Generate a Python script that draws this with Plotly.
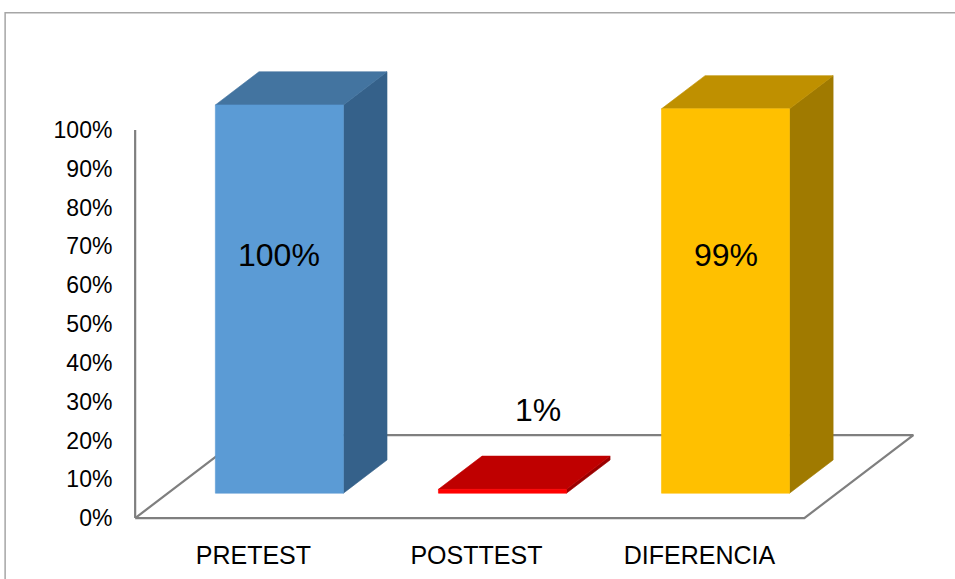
import plotly.graph_objects as go

# ---- data ----
categories = ["PRETEST", "POSTTEST", "DIFERENCIA"]
values = [100, 1, 99]
value_labels = ["100%", "1%", "99%"]
y_ticks = list(range(0, 101, 10))
y_tick_labels = [f"{t}%" for t in y_ticks]

front_colors = ["#5B9BD5", "#FF0000", "#FFC000"]
top_colors = ["#4374A0", "#BF0000", "#BF9000"]
side_colors = ["#35618A", "#9A0000", "#A07A00"]

# ---- geometry (oblique 3D projection in axis units) ----
W, H = 955, 579
PX_PER_CAT = 223.0      # pixels per category unit
PX_PER_PCT = 3.88       # pixels per percent
X0_PX, Y0_PX = 135.0, 518.0  # pixel position of (x=-0.5, y=0)
DX = 109.0 / PX_PER_CAT      # floor depth in x units
DY = 83.0 / PX_PER_PCT       # floor depth in y units (%)
Z0, Z1 = 0.3, 0.7            # bar depth position within floor
BW = 128.0 / PX_PER_CAT      # bar width

xr = [-0.55, 3.05]
yr = [-1.0, 118.0]
pw = (xr[1] - xr[0]) * PX_PER_CAT
ph = (yr[1] - yr[0]) * PX_PER_PCT
ml = X0_PX - (-0.5 - xr[0]) * PX_PER_CAT
mr = W - ml - pw
mb = H - (Y0_PX + (0 - yr[0]) * PX_PER_PCT)
mt = H - mb - ph

FONT = "Liberation Sans, Arial, sans-serif"

fig = go.Figure()

n = len(categories)
# floor
fx = [-0.5, n - 0.5, n - 0.5 + DX, -0.5 + DX, -0.5]
fy = [0, 0, DY, DY, 0]
fig.add_trace(go.Scatter(x=fx, y=fy, mode="lines", fill="toself",
                         fillcolor="white", line=dict(color="#7F7F7F", width=2.2),
                         hoverinfo="skip", showlegend=False))
# vertical axis line
fig.add_trace(go.Scatter(x=[-0.5, -0.5], y=[0, 100], mode="lines",
                         line=dict(color="#7F7F7F", width=2.2),
                         hoverinfo="skip", showlegend=False))


def poly(xs, ys, color):
    fig.add_trace(go.Scatter(x=xs + [xs[0]], y=ys + [ys[0]], mode="lines",
                             fill="toself", fillcolor=color,
                             line=dict(color=color, width=0.6),
                             hoverinfo="skip", showlegend=False))


bd = Z1 - Z0
ddx, ddy = bd * DX, bd * DY
for i, v in enumerate(values):
    cx = i + Z0 * DX
    base = Z0 * DY
    x0, x1 = cx - BW / 2, cx + BW / 2
    y0, y1 = base, base + v
    poly([x1, x1, x1 + ddx, x1 + ddx], [y0, y1, y1 + ddy, y0 + ddy], side_colors[i])
    poly([x0, x1, x1 + ddx, x0 + ddx], [y1, y1, y1 + ddy, y1 + ddy], top_colors[i])
    poly([x0, x1, x1, x0], [y0, y0, y1, y1], front_colors[i])

# data labels
for i, v in enumerate(values):
    cx = i + Z0 * DX
    if v > 50:
        lx, ly = cx, 67.8
    else:
        lx, ly = cx + 0.16, v + 26.8
    fig.add_annotation(x=lx, y=ly, text=value_labels[i], showarrow=False,
                       font=dict(family=FONT, size=32, color="black"))

# outer chart frame
fig.add_shape(type="rect", xref="paper", yref="paper",
              x0=(5 - ml) / pw, x1=(990 - ml) / pw,
              y0=-(mb + 40) / ph, y1=((H - mb) - 13) / ph,
              line=dict(color="#A6A6A6", width=1.5), fillcolor="rgba(0,0,0,0)",
              layer="below")

fig.update_layout(
    width=W, height=H,
    margin=dict(l=ml, r=mr, t=mt, b=mb, pad=0, autoexpand=False),
    plot_bgcolor="white", paper_bgcolor="white",
    xaxis=dict(range=xr, showgrid=False, zeroline=False, showline=False,
               automargin=False, fixedrange=True,
               tickmode="array", tickvals=[i + 0.03 for i in range(n)],
               ticktext=categories,
               ticks="outside", ticklen=11, tickcolor="rgba(0,0,0,0)",
               tickfont=dict(family=FONT, size=25, color="black")),
    yaxis=dict(range=yr, showgrid=False, zeroline=False, showline=False,
               automargin=False, fixedrange=True,
               tickmode="array", tickvals=y_ticks, ticktext=y_tick_labels,
               ticks="outside", ticklen=6, tickcolor="rgba(0,0,0,0)",
               tickfont=dict(family=FONT, size=23, color="black")),
)

fig.write_html("out.html")
